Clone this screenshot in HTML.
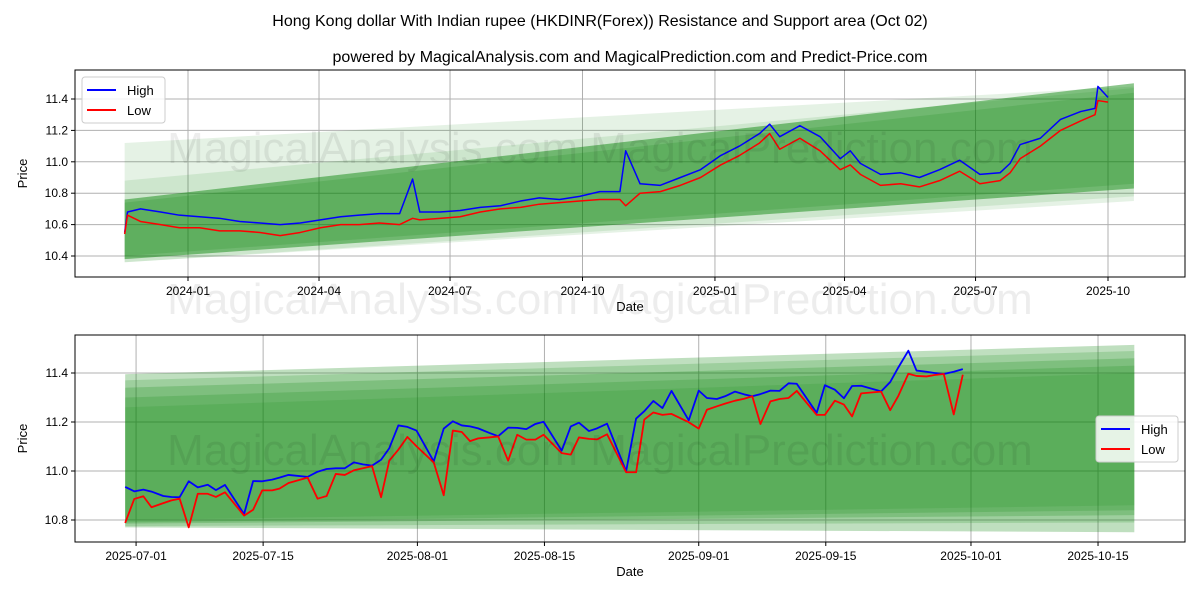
<!DOCTYPE html>
<html><head><meta charset="utf-8"><style>
html,body{margin:0;padding:0;background:#fff;}
svg{display:block;font-family:"Liberation Sans","DejaVu Sans",sans-serif;}
</style></head><body>
<svg id="chart" width="1200" height="600" viewBox="0 0 1200 600" xmlns="http://www.w3.org/2000/svg">
<rect width="1200" height="600" fill="#fff"/>
<text x="600" y="26" text-anchor="middle" font-size="16">Hong Kong dollar With Indian rupee (HKDINR(Forex)) Resistance and Support area (Oct 02)</text>
<text x="630" y="62" text-anchor="middle" font-size="16">powered by MagicalAnalysis.com and MagicalPrediction.com and Predict-Price.com</text>
<g id="top"></g>
<g id="bot"></g>
<text x="600" y="163" text-anchor="middle" font-size="44" fill="rgba(0,0,0,0.07)">MagicalAnalysis.com      MagicalPrediction.com</text>
<text x="600" y="314" text-anchor="middle" font-size="44" fill="rgba(0,0,0,0.07)">MagicalAnalysis.com      MagicalPrediction.com</text>
<text x="600" y="465" text-anchor="middle" font-size="44" fill="rgba(0,0,0,0.07)">MagicalAnalysis.com      MagicalPrediction.com</text>
</svg>
<script>
// ---- Top chart data (days since 2024-01-01) ----
const topDays = [-44,-42,-33,-19,-6,8,22,36,50,64,78,92,106,119,133,147,156,161,175,189,203,217,231,244,258,272,286,300,304,314,328,342,356,370,383,397,404,411,425,439,453,460,467,481,495,508,522,536,550,564,571,578,592,606,620,630,632,639];
const topHigh = [10.55,10.68,10.70,10.68,10.66,10.65,10.64,10.62,10.61,10.60,10.61,10.63,10.65,10.66,10.67,10.67,10.89,10.68,10.68,10.69,10.71,10.72,10.75,10.77,10.76,10.78,10.81,10.81,11.07,10.86,10.85,10.90,10.95,11.04,11.10,11.18,11.24,11.16,11.23,11.16,11.02,11.07,10.99,10.92,10.93,10.90,10.95,11.01,10.92,10.93,10.99,11.11,11.15,11.27,11.32,11.34,11.48,11.41];
const topLow = [10.54,10.66,10.62,10.60,10.58,10.58,10.56,10.56,10.55,10.53,10.55,10.58,10.60,10.60,10.61,10.60,10.64,10.63,10.64,10.65,10.68,10.70,10.71,10.73,10.74,10.75,10.76,10.76,10.72,10.80,10.81,10.85,10.90,10.98,11.04,11.12,11.18,11.08,11.15,11.07,10.95,10.98,10.92,10.85,10.86,10.84,10.88,10.94,10.86,10.88,10.93,11.02,11.10,11.20,11.26,11.30,11.39,11.38];
const topTickDays = [0,91,182,274,366,456,547,639];
const topTickLabels = ["2024-01","2024-04","2024-07","2024-10","2025-01","2025-04","2025-07","2025-10"];
const topYTicks = [10.4,10.6,10.8,11.0,11.2,11.4];
const topBandStart = [-44,-44,-44,-44];
const topBandEnd = [657,657,657,657];
const topBandTop0 = [11.12,10.88,10.76,10.74];
const topBandTop1 = [11.48,11.47,11.50,11.44];
const topBandBot0 = [10.36,10.36,10.38,10.40];
const topBandBot1 = [10.75,10.78,10.83,10.86];
const topBandAlpha = [0.1,0.1,0.45,0.15];

// ---- Bottom chart data (days since 2025-06-30) ----
const botDays = [-0.2,0.8,1.8,2.7,4.0,4.9,5.8,6.8,7.8,8.9,9.8,10.8,12.9,13.9,14.9,16.0,16.8,17.8,19.9,21.0,22.0,23.0,24.0,25.0,26.0,27.0,28.0,28.9,29.9,30.9,31.9,33.8,34.9,35.9,36.9,37.8,38.7,39.9,40.9,42.0,43.0,44.0,45.0,45.9,47.9,48.9,49.8,50.9,51.8,52.9,55.0,56.1,57.0,58.0,59.0,60.0,61.9,63.0,63.9,65.0,65.9,67.0,68.0,68.9,69.8,70.9,71.9,72.9,73.8,76.0,76.9,78.0,79.0,79.9,80.9,83.1,84.1,85.0,86.1,87.0,88.1,89.0,90.0,91.1,92.1];
const botHigh = [10.935,10.917,10.924,10.916,10.898,10.894,10.893,10.958,10.933,10.944,10.922,10.943,10.824,10.959,10.958,10.965,10.973,10.984,10.976,10.997,11.008,11.011,11.011,11.035,11.027,11.022,11.046,11.093,11.186,11.180,11.165,11.039,11.173,11.203,11.186,11.182,11.174,11.156,11.142,11.177,11.176,11.171,11.192,11.201,11.083,11.182,11.197,11.163,11.174,11.193,10.999,11.214,11.244,11.286,11.257,11.327,11.207,11.328,11.298,11.294,11.305,11.324,11.313,11.305,11.314,11.328,11.327,11.358,11.356,11.237,11.350,11.332,11.297,11.347,11.348,11.325,11.363,11.423,11.491,11.410,11.405,11.400,11.396,11.405,11.416];
const botLow = [10.788,10.886,10.897,10.852,10.869,10.880,10.887,10.770,10.907,10.907,10.894,10.913,10.818,10.842,10.921,10.921,10.928,10.951,10.973,10.887,10.898,10.988,10.984,11.003,11.011,11.020,10.893,11.042,11.087,11.139,11.101,11.035,10.901,11.165,11.159,11.122,11.133,11.137,11.141,11.042,11.148,11.128,11.128,11.148,11.073,11.067,11.137,11.131,11.129,11.150,10.995,10.995,11.210,11.239,11.229,11.233,11.199,11.173,11.250,11.264,11.275,11.287,11.295,11.305,11.192,11.284,11.294,11.298,11.327,11.229,11.229,11.287,11.271,11.223,11.317,11.324,11.248,11.307,11.397,11.388,11.386,11.392,11.396,11.231,11.393];
const botTickDays = [1,15,32,46,63,77,93,107];
const botTickLabels = ["2025-07-01","2025-07-15","2025-08-01","2025-08-15","2025-09-01","2025-09-15","2025-10-01","2025-10-15"];
const botYTicks = [10.8,11.0,11.2,11.4];
const botBandStart = [-0.2,-0.2,-0.2,-0.2,-0.2];
const botBandEnd = [111,111,111,111,111];
const botBandTop0 = [11.395,11.37,11.34,11.30,11.26];
const botBandTop1 = [11.515,11.49,11.46,11.43,11.40];
const botBandBot0 = [10.77,10.775,10.785,10.79,10.80];
const botBandBot1 = [10.75,10.79,10.82,10.84,10.86];
const botBandAlpha = [0.25,0.17,0.2,0.17,0.12];

const NS="http://www.w3.org/2000/svg";
function mk(parent,tag,attrs){const e=document.createElementNS(NS,tag);for(const k in attrs)e.setAttribute(k,attrs[k]);parent.appendChild(e);return e;}

function panel(g,cfg){
  const {x0,x1,y0,y1,xs,ys}=cfg;
  cfg.xt.forEach((d,i)=>{
    const x=xs(d);
    const gl=mk(g,'line',{x1:x,x2:x,y1:y0,y2:y1,stroke:'#b0b0b0','stroke-width':1});
    
    
  });
  cfg.yt.forEach(v=>{
    const y=ys(v);
    const gl=mk(g,'line',{x1:x0,x2:x1,y1:y,y2:y,stroke:'#b0b0b0','stroke-width':1});
    
    
  });
  for(let i=0;i<cfg.bs.length;i++){
    const a=xs(cfg.bs[i]),b=xs(cfg.be[i]);
    const p=mk(g,'polygon',{points:`${a},${ys(cfg.bt0[i])} ${b},${ys(cfg.bt1[i])} ${b},${ys(cfg.bb1[i])} ${a},${ys(cfg.bb0[i])}`,fill:'rgb(0,128,0)','fill-opacity':cfg.ba[i]});
    
    
  }
  const hp=mk(g,'polyline',{points:cfg.days.map((d,i)=>xs(d)+','+ys(cfg.hi[i])).join(' '),fill:'none',stroke:'#0000ff','stroke-width':cfg.lw,'stroke-linejoin':'round'});
  
  
  const lp=mk(g,'polyline',{points:cfg.days.map((d,i)=>xs(d)+','+ys(cfg.lo[i])).join(' '),fill:'none',stroke:'#ff0000','stroke-width':cfg.lw,'stroke-linejoin':'round'});
  
  
  const fr=mk(g,'rect',{x:x0,y:y0,width:x1-x0,height:y1-y0,fill:'none',stroke:'#000','stroke-width':1});
  
  
  cfg.xt.forEach((d,i)=>{
    const x=xs(d);
    mk(g,'line',{x1:x,x2:x,y1:y1,y2:y1+4,stroke:'#000'});
    const t=mk(g,'text',{x:x,y:y1+18,'text-anchor':'middle','font-size':12});
    t.textContent=cfg.xl[i];
    
    
  });
  cfg.yt.forEach(v=>{
    const y=ys(v);
    mk(g,'line',{x1:x0-4,x2:x0,y1:y,y2:y,stroke:'#000'});
    const t=mk(g,'text',{x:x0-7,y:y+4,'text-anchor':'end','font-size':12});
    t.textContent=v.toFixed(1);
    
    
  });
  const xl=mk(g,'text',{x:(x0+x1)/2,y:y1+34,'text-anchor':'middle','font-size':13});
  xl.textContent='Date';
  
  
  const yl=mk(g,'text',{x:0,y:0,'text-anchor':'middle','font-size':13,transform:`translate(27,${(y0+y1)/2}) rotate(-90)`});
  yl.textContent='Price';
  
  
  const L=cfg.leg;
  const lg=mk(g,'g',{});
  
  
  mk(lg,'rect',{x:L.x,y:L.y,width:L.w,height:46,rx:3,fill:'rgba(255,255,255,0.85)',stroke:'#ccc'});
  [['High','#0000ff'],['Low','#ff0000']].forEach((e,i)=>{
    const yy=L.y+13+i*20;
    const it=mk(lg,'g',{});
    
    
    mk(it,'line',{x1:L.x+5,x2:L.x+34,y1:yy,y2:yy,stroke:e[1],'stroke-width':2});
    const t=mk(it,'text',{x:L.x+45,y:yy+5,'font-size':13});
    t.textContent=e[0];
  });
}

const tx=d=>188+(d)*(920/639);
const ty=v=>99+(11.4-v)*(31.4/0.2);
panel(document.getElementById('top'),{x0:75,x1:1185,y0:70,y1:277,xs:tx,ys:ty,xt:topTickDays,xl:topTickLabels,yt:topYTicks,
  bs:topBandStart,be:topBandEnd,bt0:topBandTop0,bt1:topBandTop1,bb0:topBandBot0,bb1:topBandBot1,ba:topBandAlpha,
  days:topDays,hi:topHigh,lo:topLow,lw:1.5,leg:{x:82,y:77,w:83}});

const bx=d=>127+d*9.075;
const by=v=>373+(11.4-v)*(49/0.2);
panel(document.getElementById('bot'),{x0:75,x1:1185,y0:335,y1:542,xs:bx,ys:by,xt:botTickDays,xl:botTickLabels,yt:botYTicks,
  bs:botBandStart,be:botBandEnd,bt0:botBandTop0,bt1:botBandTop1,bb0:botBandBot0,bb1:botBandBot1,ba:botBandAlpha,
  days:botDays,hi:botHigh,lo:botLow,lw:1.8,leg:{x:1096,y:416,w:82}});
</script>
</body></html>
